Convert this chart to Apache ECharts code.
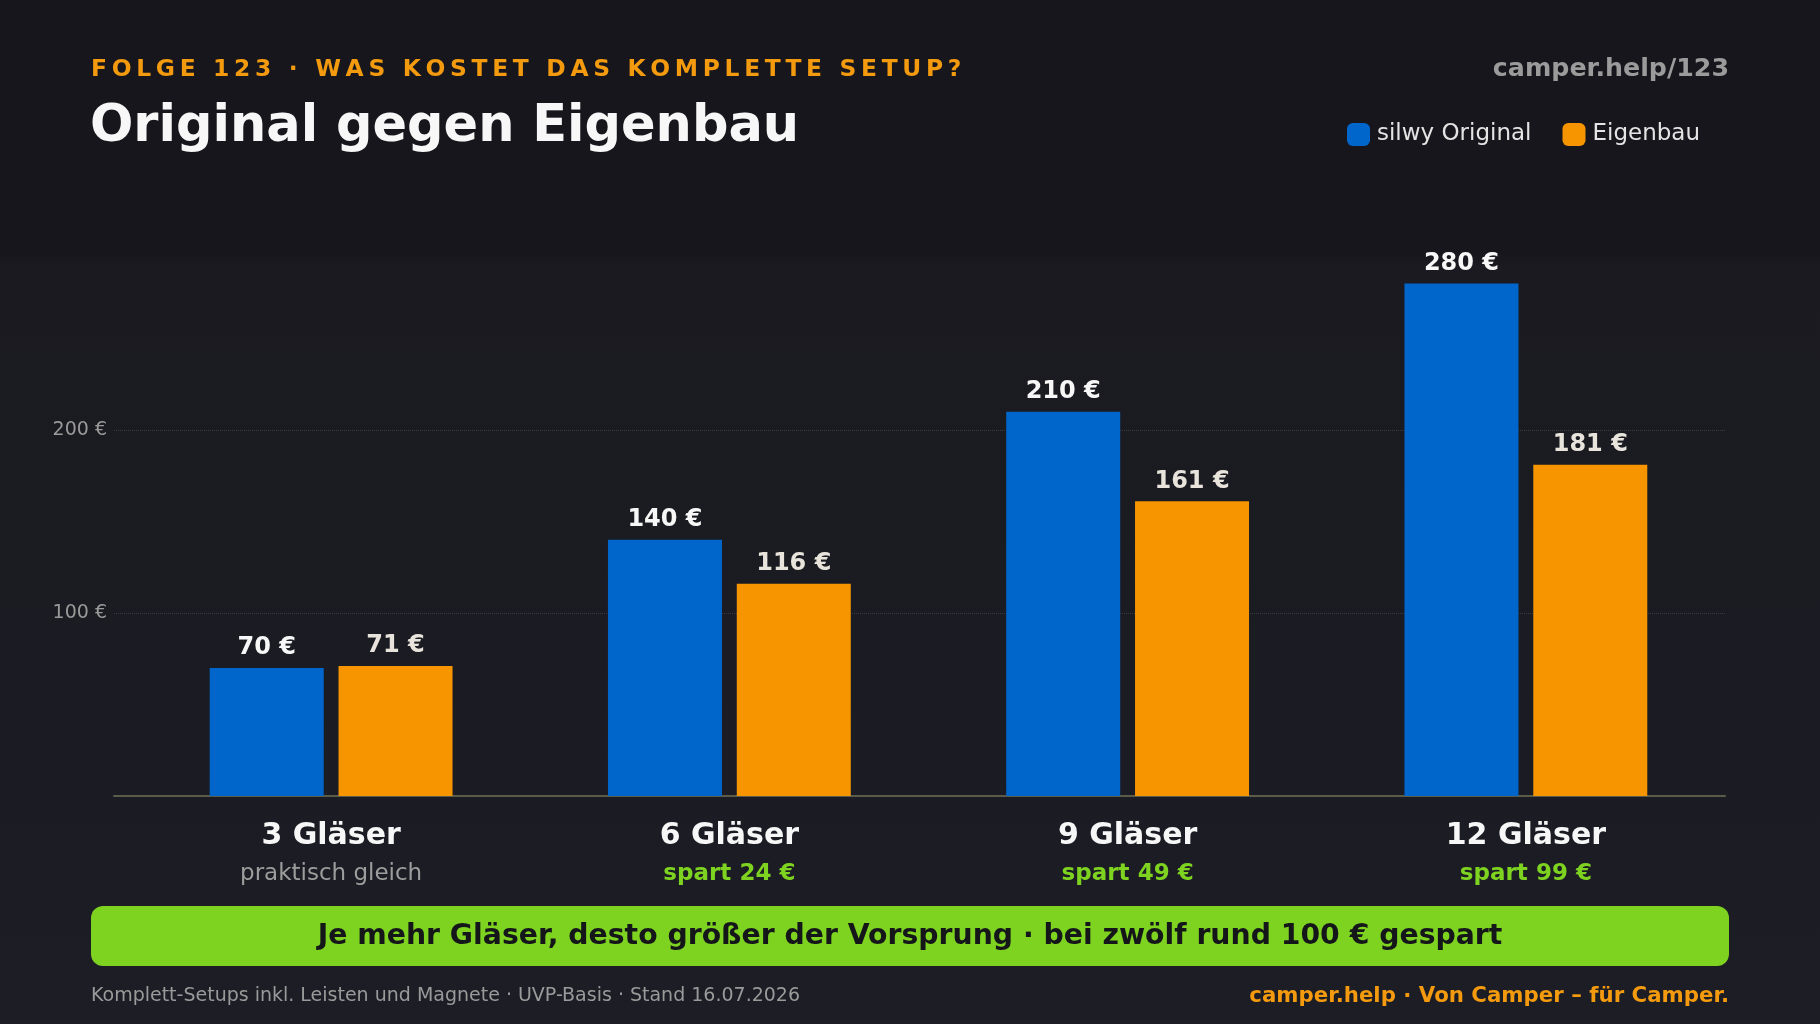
<!DOCTYPE html>
<html>
<head>
<meta charset="utf-8">
<script src="https://cdn.jsdelivr.net/npm/echarts@6/dist/echarts.min.js"></script>
<style>
    html, body { margin: 0; padding: 0; background: #1b1c23; }
    #chart { width: 1820px; height: 1024px; }
</style>
</head>
<body>
<div id="chart"></div>
<script>
// Daten
const categories = ['3 Gläser', '6 Gläser', '9 Gläser', '12 Gläser'];
const subLabels = ['praktisch gleich', 'spart 24 €', 'spart 49 €', 'spart 99 €'];
const original = [70, 140, 210, 280];
const eigenbau = [71, 116, 161, 181];
const yTicks = [100, 200];

const FONT = 'DejaVu Sans';
const Y_MAX = 300;

// Buchstabenabstand simulieren (zrender kennt kein letter-spacing)
const spaced = s => s.split('').join('\u2009');

const chart = echarts.init(document.getElementById('chart'));

const barLabel = color => ({
    show: true,
    position: 'top',
    distance: 8,
    formatter: '{c} €',
    color: color,
    fontSize: 24,
    fontWeight: 'bold',
    fontFamily: FONT,
});

const option = {
    backgroundColor: {
        type: 'linear', x: 0, y: 0, x2: 0, y2: 1,
        colorStops: [
            {offset: 0, color: '#17171d'},
            {offset: 0.25, color: '#17171d'},
            {offset: 0.26, color: '#1a1a20'},
            {offset: 1, color: '#1c1d25'},
        ],
    },
    textStyle: {fontFamily: FONT},
    animation: false,
    graphic: [
        {type: 'rect', left: 0, top: 0, shape: {width: 1820, height: 255}, style: {fill: '#16161c'}, z: -1},
        {
            type: 'text', left: 91, top: 58,
            style: {text: spaced('FOLGE 123 · WAS KOSTET DAS KOMPLETTE SETUP?'), fill: '#f39a0e', font: 'bold 23.4px "DejaVu Sans"'},
        },
        {
            type: 'text', left: 90, top: 102,
            style: {text: 'Original gegen Eigenbau', fill: '#f7f7f7', font: 'bold 51px "DejaVu Sans"'},
        },
        {
            type: 'text', right: 91, top: 57,
            style: {text: 'camper.help/123', fill: '#9b9b9b', font: 'bold 25.3px "DejaVu Sans"'},
        },
        {
            type: 'rect', left: 91, top: 906,
            shape: {width: 1638, height: 60, r: 12},
            style: {fill: '#7ed321'},
        },
        {
            type: 'text', left: 'center', top: 923,
            style: {
                text: 'Je mehr Gläser, desto größer der Vorsprung · bei zwölf rund 100 € gespart',
                fill: '#15161a', font: 'bold 28.3px "DejaVu Sans"',
            },
        },
        {
            type: 'text', left: 91, top: 987,
            style: {text: 'Komplett-Setups inkl. Leisten und Magnete · UVP-Basis · Stand 16.07.2026', fill: '#9a9a9a', font: '19px "DejaVu Sans"'},
        },
        {
            type: 'text', right: 91, top: 986,
            style: {text: 'camper.help · Von Camper – für Camper.', fill: '#f39a0e', font: 'bold 21.3px "DejaVu Sans"'},
        },
    ],
    legend: {
        left: 1342,
        top: 118,
        itemWidth: 23,
        itemHeight: 23,
        itemGap: 31,
        icon: 'roundRect',
        textStyle: {color: '#e4e4e4', fontSize: 23, fontFamily: FONT, padding: [0, 0, 0, 2]},
        data: ['silwy Original', 'Eigenbau'],
    },
    grid: [
        // Rahmen: Gitterlinien und Grundlinie
        {left: 114, right: 95, top: 247, bottom: 228},
        // Balken
        {left: 132, right: 95, top: 247, bottom: 228},
    ],
    xAxis: [
        {
            gridIndex: 0,
            type: 'value',
            min: 0,
            max: 1,
            axisLine: {show: true, lineStyle: {color: '#5b5b4a', width: 2}},
            axisTick: {show: false},
            axisLabel: {show: false},
            splitLine: {show: false},
        },
        {
            gridIndex: 1,
            type: 'category',
            data: categories,
            axisLine: {show: false},
            axisTick: {show: false},
            axisLabel: {
                margin: 19,
                formatter: (value, idx) => {
                    const style = idx === 0 ? 'gray' : 'green';
                    return '{name|' + value + '}\n{' + style + '|' + subLabels[idx] + '}';
                },
                rich: {
                    name: {color: '#f7f7f7', fontSize: 30, fontWeight: 'bold', fontFamily: FONT, lineHeight: 42},
                    gray: {color: '#9d9d9d', fontSize: 23, fontFamily: FONT, lineHeight: 34},
                    green: {color: '#7ed321', fontSize: 23, fontWeight: 'bold', fontFamily: FONT, lineHeight: 34},
                },
            },
        },
    ],
    yAxis: [
        {
            gridIndex: 0,
            type: 'value',
            min: 0,
            max: Y_MAX,
            interval: 100,
            axisLine: {show: false},
            axisTick: {show: false},
            axisLabel: {
                color: '#9a9a9a',
                fontSize: 19,
                fontFamily: FONT,
                margin: 7,
                showMinLabel: false,
                showMaxLabel: false,
                formatter: v => (yTicks.includes(v) ? v + ' €' : ''),
            },
            splitLine: {
                showMinLine: false,
                showMaxLine: false,
                lineStyle: {color: '#3a3a42', type: 'dotted', width: 1},
            },
        },
        {
            gridIndex: 1,
            type: 'value',
            min: 0,
            max: Y_MAX,
            show: false,
            splitLine: {show: false},
        },
    ],
    series: [
        {
            name: 'silwy Original',
            type: 'bar',
            xAxisIndex: 1,
            yAxisIndex: 1,
            data: original,
            barWidth: 114,
            barGap: '13%',
            itemStyle: {color: '#0066cc'},
            label: barLabel('#f7f7f7'),
            z: 3,
        },
        {
            name: 'Eigenbau',
            type: 'bar',
            xAxisIndex: 1,
            yAxisIndex: 1,
            data: eigenbau,
            barWidth: 114,
            itemStyle: {color: '#f79500'},
            label: barLabel('#e8e4dc'),
            z: 3,
        },
    ],
};

chart.setOption(option);
window.addEventListener('resize', () => chart.resize());
</script>
</body>
</html>
